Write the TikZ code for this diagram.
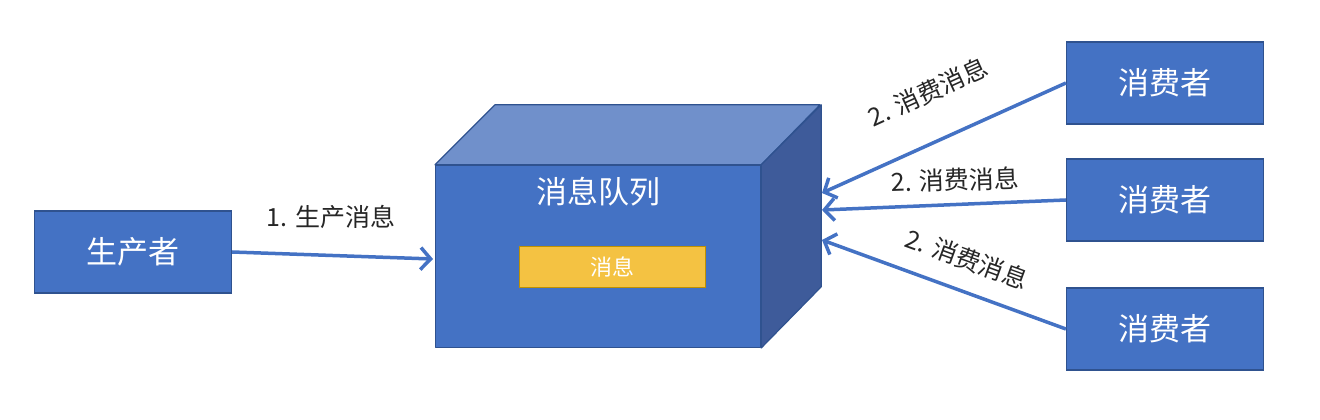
\documentclass[tikz,border=0pt]{standalone}
\usepackage{fontspec}
\setmainfont{Noto Sans CJK SC}
\usetikzlibrary{arrows.meta, positioning, calc}
\definecolor{boxblue}{HTML}{4472C4}
\definecolor{boxline}{HTML}{2F528F}
\definecolor{topblue}{HTML}{7090CB}
\definecolor{sideblue}{HTML}{3E5B9A}
\definecolor{msgyellow}{HTML}{F4C242}
\definecolor{msgline}{HTML}{BF9000}
\definecolor{txt}{HTML}{262626}

\begin{document}
\begin{tikzpicture}[x=1pt, y=1pt,
  actor/.style={rectangle, draw=boxline, line width=1.2pt, fill=boxblue,
                minimum width=197pt, minimum height=82pt,
                font=\fontsize{31}{36}\selectfont\color{white}},
  face/.style={draw=boxline, line width=1.2pt, line join=round},
  flow/.style={draw=boxblue, line width=3.5pt,
               -{Straight Barb[length=10pt, width=22pt]}},
  lbl/.style={font=\fontsize{25}{30}\selectfont\color{txt}, inner sep=0pt}
]
  \useasboundingbox (0,0) rectangle (1320,420);

  % queue cube
  \node[face, fill=boxblue, minimum width=325pt, minimum height=182pt,
        anchor=south west] (queue) at (435,72) {};
  \filldraw[face, fill=topblue] (queue.north west) -- ++(60,60) -- ++(325,0)
    -- (queue.north east) -- cycle;
  \filldraw[face, fill=sideblue] (queue.north east) -- ++(60,60) -- ++(0,-182)
    -- (queue.south east) -- cycle;
  \node[font=\fontsize{31}{36}\selectfont\color{white}] (qtitle)
    at ($(queue.north)+(0,-27)$) {消息队列};
  \node[draw=msgline, line width=1.2pt, fill=msgyellow, minimum width=186pt,
        minimum height=41pt, font=\fontsize{22}{26}\selectfont\color{white}]
    (msg) at ($(queue.center)+(14,-11)$) {消息};

  % producer / consumers
  \node[actor] (prod) at (133,168) {生产者};
  \foreach \n/\y in {1/337, 2/220, 3/91}
    \node[actor] (con\n) at (1165,\y) {消费者};

  \coordinate (qin) at (433,161);
  \coordinate (qa) at (822,227);
  \coordinate (qb) at (822,210);
  \coordinate (qc) at (822,180);

  \draw[flow] (prod.east) -- (qin);
  \draw[flow] (con1.west) -- (qa);
  \draw[flow] (con2.west) -- (qb);
  \draw[flow] (con3.west) -- (qc);

  \node[lbl] (plbl) at (331,203) {1. 生产消息};
  \node[lbl, rotate=24.5] (clbl1) at (928,328) {2. 消费消息};
  \node[lbl, rotate=2] (clbl2) at (955,240) {2. 消费消息};
  \node[lbl, rotate=-20] (clbl3) at (967,161) {2. 消费消息};
\end{tikzpicture}
\end{document}
